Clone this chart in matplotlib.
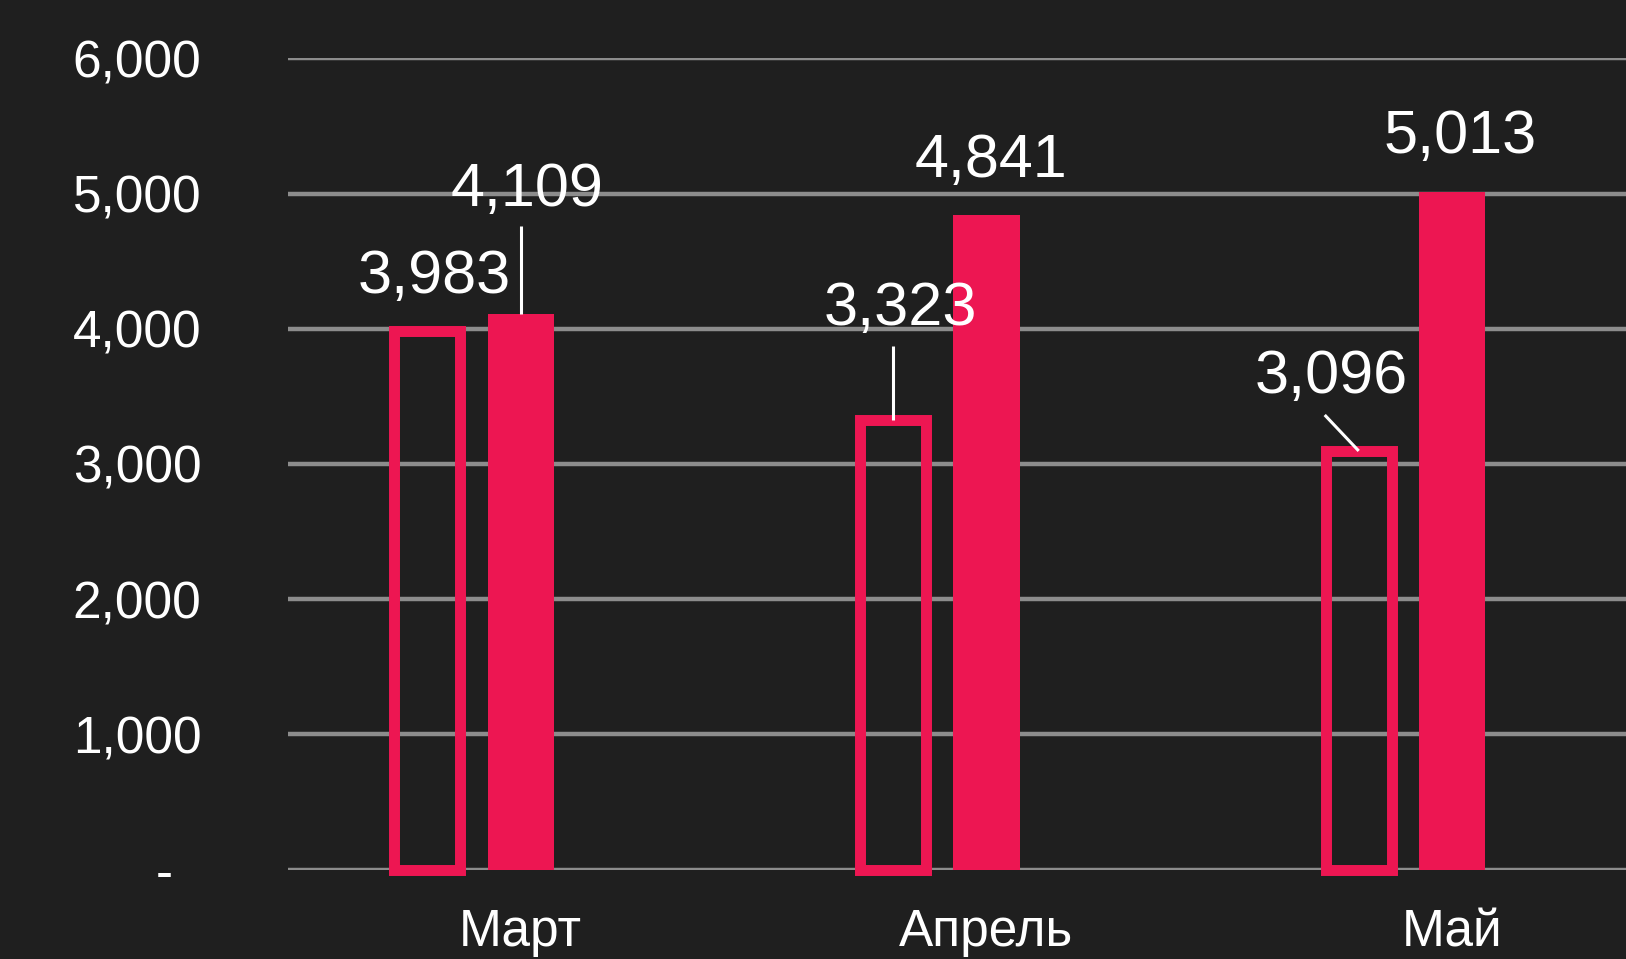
import numpy as np
import matplotlib
matplotlib.use('Agg')
import matplotlib.pyplot as plt
from matplotlib.ticker import FuncFormatter

plt.rcParams['font.family'] = ['Liberation Sans', 'DejaVu Sans']

months = ['Март', 'Апрель', 'Май']
plan = [3983, 3323, 3096]      # outline bars
fact = [4109, 4841, 5013]      # filled bars
yticks = [0, 1000, 2000, 3000, 4000, 5000, 6000]

# label offsets (category units, value units) from the bar top
plan_lbl = [(0.016, 281), (0.016, 704), (-0.058, 426)]
fact_lbl = [(0.013, 799), (0.009, 281), (0.016, 286)]
# leader lines: (series, index, dx_end, dy_end)
leaders = [('fact', 0, 0.0, 651), ('plan', 1, 0.0, 547), ('plan', 2, -0.073, 266)]

bg = '#1f1f1f'
red = '#ed1652'
grid_col = '#8c8c8c'

fig = plt.figure(figsize=(16.26, 9.59), dpi=100, facecolor=bg)
ax = fig.add_axes([0.1769, 0.0933, 0.8231, 0.8459])
ax.set_facecolor(bg)

x = np.arange(len(months))
off = -0.201
w = 0.142

ax.bar(x, fact, width=w, color=red, zorder=3)
bars = ax.bar(x + off, plan, width=w, facecolor='none', edgecolor=red,
              linewidth=7.9, zorder=3)
for b in bars:
    b.set_clip_on(False)

for i in range(len(months)):
    dx, dy = plan_lbl[i]
    ax.text(x[i] + off + dx, plan[i] + dy, f'{plan[i]:,}', ha='center',
            va='baseline', color='white', fontsize=44, zorder=5)
    dx, dy = fact_lbl[i]
    ax.text(x[i] + dx, fact[i] + dy, f'{fact[i]:,}', ha='center',
            va='baseline', color='white', fontsize=44, zorder=5)

for s, i, dx, dy in leaders:
    if s == 'fact':
        x0, y0 = x[i], fact[i]
    else:
        x0, y0 = x[i] + off, plan[i]
    ax.plot([x0, x0 + dx], [y0, y0 + dy], color='white', lw=2.2, zorder=4,
            solid_capstyle='butt')

ax.set_xlim(-0.5, 2.3727)
ax.set_ylim(0, 6000)
ax.set_yticks(yticks)
ax.yaxis.set_major_formatter(FuncFormatter(lambda v, p: '-  ' if v == 0 else f'{int(v):,}'))
ax.set_xticks(x)
ax.set_xticklabels(months)

ax.set_axisbelow(True)
ax.yaxis.grid(True, color=grid_col, linewidth=3.2)
ax.xaxis.grid(False)
for sp in ax.spines.values():
    sp.set_visible(False)
ax.tick_params(axis='y', length=0, pad=62, labelsize=37, labelcolor='white')
ax.tick_params(axis='x', length=0, pad=28, labelsize=37, labelcolor='white')

fig.savefig('out.png', dpi=100, facecolor=bg)
